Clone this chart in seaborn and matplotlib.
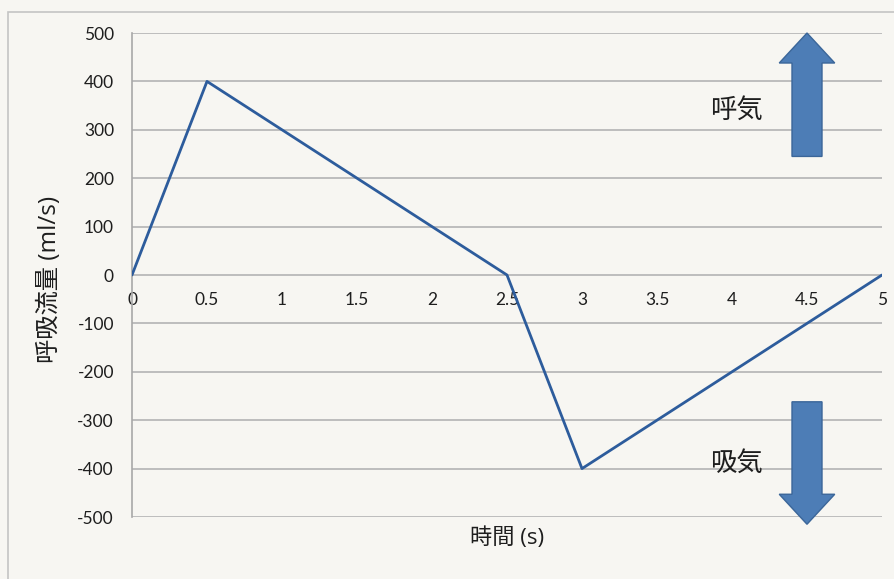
import matplotlib
matplotlib.use("Agg")
import matplotlib.pyplot as plt
import seaborn as sns
import pandas as pd
from matplotlib.patches import FancyArrow, Rectangle

# Respiratory flow over one breath cycle
time_s = [0, 0.5, 2.5, 3, 5]
flow_ml_s = [0, 400, 0, -400, 0]
x_ticks = [0, 0.5, 1, 1.5, 2, 2.5, 3, 3.5, 4, 4.5, 5]
x_tick_labels = ["0", "0.5", "1", "1.5", "2", "2.5", "3", "3.5", "4", "4.5", "5"]
y_ticks = [500, 400, 300, 200, 100, 0, -100, -200, -300, -400, -500]
exhale_label = "呼気"
inhale_label = "吸気"

sns.set_style("white")
plt.rcParams["font.family"] = ["Lato", "Noto Sans CJK JP", "DejaVu Sans"]
label_family = ["Open Sans", "Noto Sans CJK JP", "DejaVu Sans"]
paper = "#f7f6f2"
text_color = "#1e1e1e"

fig = plt.figure(figsize=(8.94, 5.79), dpi=100, facecolor=paper)
ax = fig.add_axes([132 / 894, 62 / 579, 750 / 894, 484 / 579])
ax.set_facecolor(paper)

df = pd.DataFrame({"time": time_s, "flow": flow_ml_s})
sns.lineplot(data=df, x="time", y="flow", ax=ax, color="#2d5c9c",
             linewidth=2.0, zorder=3, sort=False)

ax.set_xlim(0, 5)
ax.set_ylim(-500, 500)
ax.set_yticks(y_ticks)
ax.set_yticklabels([str(v) for v in y_ticks])
ax.set_xticks(x_ticks)
ax.set_xticklabels(x_tick_labels)

ax.grid(axis="y", color="#bdbdbd", linewidth=1.4, zorder=0)
ax.grid(axis="x", visible=False)
for side in ("top", "right"):
    ax.spines[side].set_visible(False)
ax.spines["left"].set_color("#a8a8a8")
ax.spines["left"].set_linewidth(1.2)
ax.spines["bottom"].set_position(("data", 0))
ax.spines["bottom"].set_visible(False)

ax.tick_params(axis="x", length=0, pad=12, labelsize=12.5, labelcolor=text_color)
ax.tick_params(axis="y", length=0, pad=13, labelsize=12.5, labelcolor=text_color)

ax.set_xlabel("時間 (s)", fontsize=16, color=text_color, family=label_family)
ax.xaxis.set_label_coords(0.5, -0.022)
ax.set_ylabel("呼吸流量 (ml/s)", fontsize=17.5, color=text_color,
              family=label_family)
ax.yaxis.set_label_coords(-0.093, 0.49)

# Direction arrows for exhalation (up) and inhalation (down)
arrow_kw = dict(width=0.2, head_width=0.37, head_length=62,
                length_includes_head=True, facecolor="#4d7db6",
                edgecolor="#3b6699", linewidth=1.0, clip_on=False, zorder=4)
ax.add_patch(FancyArrow(4.5, 245, 0, 255, **arrow_kw))
ax.add_patch(FancyArrow(4.5, -262, 0, -253, **arrow_kw))

ax.text(4.03, 340, exhale_label, fontsize=19, color=text_color,
        ha="center", va="center")
ax.text(4.03, -390, inhale_label, fontsize=19, color=text_color,
        ha="center", va="center")

# Outer chart frame
fig.patches.append(Rectangle((8 / 894, -0.1), 1.2, 0.1 + 567 / 579,
                             transform=fig.transFigure, fill=False,
                             edgecolor="#c4c4c4", linewidth=1.2))

fig.savefig("out.png", dpi=100, facecolor=paper)
